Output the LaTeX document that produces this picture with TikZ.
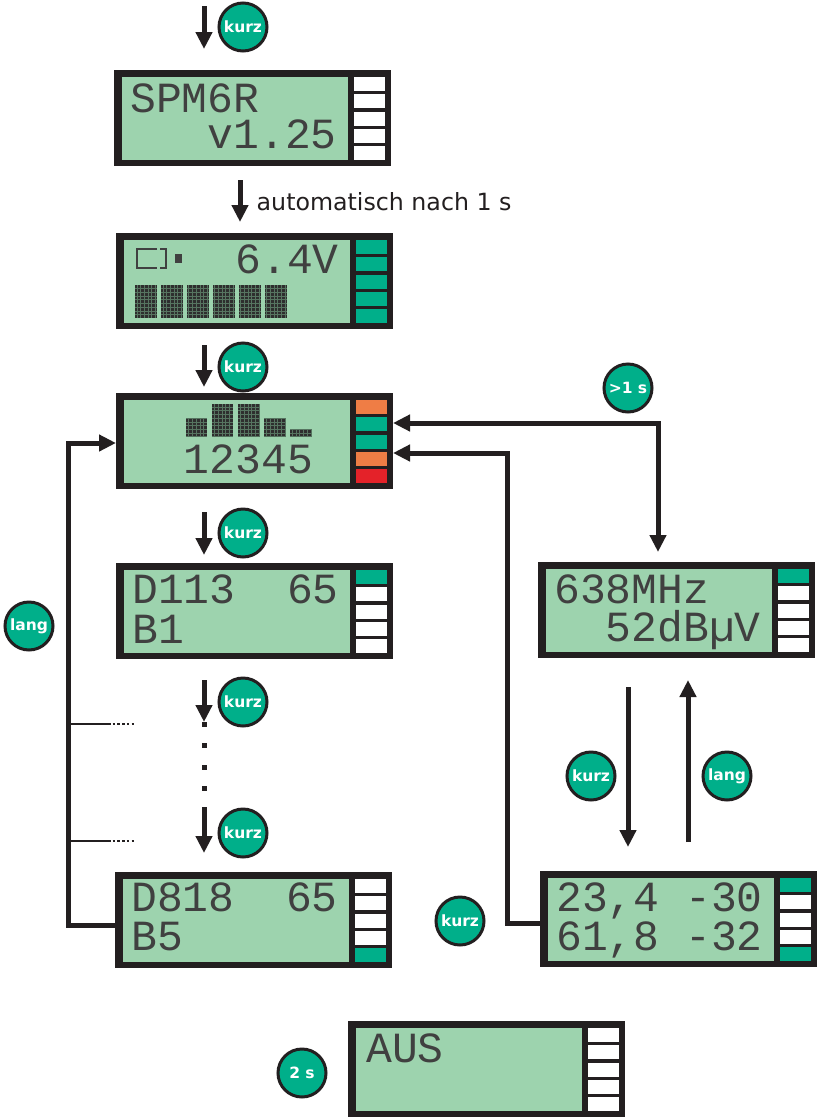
\documentclass[tikz,border=0pt]{standalone}
\usepackage{fontspec}
\setmainfont{DejaVu Sans}
\newfontfamily\lcdfont{Liberation Mono}
\usetikzlibrary{arrows.meta,calc}
\definecolor{lcdg}{HTML}{9DD3AE}
\definecolor{tealg}{HTML}{00AF8A}
\definecolor{ledo}{HTML}{EF7D45}
\definecolor{ledr}{HTML}{E42229}
\definecolor{frame}{HTML}{231F20}
\newcommand{\lcdpanel}[8]{%
  \node[lcdframe, anchor=north west] (#1) at (#2,#3) {};
  \fill[lcdg] (#2+8,#3+7) rectangle (#2+234,#3+90);
  \fill[#4] (#2+240,#3+7) rectangle (#2+271,#3+21);
  \fill[#5] (#2+240,#3+24.25) rectangle (#2+271,#3+38.25);
  \fill[#6] (#2+240,#3+41.5) rectangle (#2+271,#3+55.5);
  \fill[#7] (#2+240,#3+58.75) rectangle (#2+271,#3+72.75);
  \fill[#8] (#2+240,#3+76) rectangle (#2+271,#3+90);
}
\newcommand{\dotblock}[4]{%
  \fill[black!82] (#1,#2) rectangle (#3,#4);
  \draw[lcdg!55!black, line width=0.45pt, step=3.7pt] (#1,#2) grid (#3,#4);
}
\tikzset{
  lcdframe/.style={fill=frame, draw=none, minimum width=277pt, minimum height=96pt, inner sep=0pt, outer sep=0pt},
  lcdtxt/.style={font=\lcdfont\fontsize{43}{44}\selectfont, text=black!75, inner sep=0pt, anchor=base west, text height=29pt, text depth=2pt},
  badge/.style={circle, fill=tealg, draw=frame, line width=3pt, minimum size=48pt, inner sep=0pt, text=white, font=\bfseries\fontsize{15.5}{16}\selectfont},
  arr/.style={draw=frame, line width=5pt, -{Triangle[width=16pt,length=17pt]}},
  conn/.style={draw=frame, line width=5pt},
  stub/.style={draw=frame, line width=2.5pt},
  stubdots/.style={draw=frame, line width=2.5pt, dash pattern=on 2.5pt off 2.2pt},
}
\begin{document}
\begin{tikzpicture}[x=1pt,y=-1pt]
\useasboundingbox (0,0) rectangle (818,1117);
\fill[white] (0,0) rectangle (818,1117);

% displays
\lcdpanel{d1}{114}{70}{white}{white}{white}{white}{white}
\lcdpanel{d2}{116}{233}{tealg}{tealg}{tealg}{tealg}{tealg}
\lcdpanel{d3}{116}{393}{ledo}{tealg}{tealg}{ledo}{ledr}
\lcdpanel{d4}{116}{563}{tealg}{white}{white}{white}{white}
\lcdpanel{d5}{115}{872}{white}{white}{white}{white}{tealg}
\lcdpanel{d6}{538}{562}{tealg}{white}{white}{white}{white}
\lcdpanel{d7}{540}{871}{tealg}{white}{white}{white}{tealg}
\lcdpanel{d8}{348}{1021}{white}{white}{white}{white}{white}

% display texts
\node[lcdtxt] (t1a) at (130,112) {SPM6R};
\node[lcdtxt] (t1b) at (130,148) {~~~v1.25};
\node[lcdtxt] (t2a) at (132,273) {~~~~6.4V};
\node[lcdtxt] (t3a) at (132,473) {~~12345};
\node[lcdtxt] (t4a) at (132,603) {D113~~65};
\node[lcdtxt] (t4b) at (132,643) {B1};
\node[lcdtxt] (t5a) at (131,911) {D818~~65};
\node[lcdtxt] (t5b) at (131,950) {B5};
\node[lcdtxt] (t6a) at (554,603) {638MHz};
\node[lcdtxt] (t6b) at (554,641) {~~52dBµV};
\node[lcdtxt] (t7a) at (556,911) {23,4~-30};
\node[lcdtxt] (t7b) at (556,950) {61,8~-32};
\node[lcdtxt] (t8a) at (366,1062) {AUS};

% battery icon
\draw[black!75, line width=2.8pt] (157,249) -- (137,249) -- (137,268) -- (157,268);
\draw[black!75, line width=2.8pt] (160,249) -- (166,249) -- (166,268) -- (160,268);
\fill[black!75] (175,254) rectangle (182,263);
% battery bars
\foreach \i in {0,...,5}{\dotblock{135+26*\i}{285}{157+26*\i}{318}}
% level histogram
\dotblock{186}{418}{207}{437}
\dotblock{212}{404}{233}{437}
\dotblock{238}{404}{259}{437}
\dotblock{264}{418}{286}{437}
\dotblock{290}{429}{312}{437}

% badges
\node[badge] (k1) at (243,27) {kurz};
\node[badge] (k2) at (243,367) {kurz};
\node[badge] (k3) at (243,533) {kurz};
\node[badge] (k4) at (243,702) {kurz};
\node[badge] (k5) at (243,833) {kurz};
\node[badge] (l1) at (29,626) {lang};
\node[badge] (g1) at (628,388) {>1 s};
\node[badge] (k6) at (591,776) {kurz};
\node[badge] (l2) at (727,776) {lang};
\node[badge] (k7) at (460,921) {kurz};
\node[badge] (s2) at (302,1073) {2 s};

\node[font=\fontsize{23.7}{28}\selectfont, text=frame, inner sep=0pt, anchor=base west] (auto) at (256.5,210) {automatisch nach 1 s};

% column helpers
\coordinate (colA) at (240,0);
\coordinate (colB) at (204,0);
\coordinate (colC) at (628,0);
\coordinate (colD) at (688,0);
\coordinate (colE) at (658,0);
\coordinate (colF) at (507,453);
\coordinate (colG) at (68,443);
\coordinate (top) at (204,6);
\coordinate (dotsA) at (204,722);
\coordinate (dotsB) at (204,807);

% vertical arrows
\draw[arr, shorten >=21pt] (top) -- (d1.north -| colB);
\draw[arr, shorten <=14pt, shorten >=11pt] (d1.south -| colA) -- (d2.north -| colA);
\draw[arr, shorten <=16pt, shorten >=6pt] (d2.south -| colB) -- (d3.north -| colB);
\draw[arr, shorten <=23pt, shorten >=8pt] (d3.south -| colB) -- (d4.north -| colB);
\draw[arr, shorten <=21pt] (d4.south -| colB) -- (dotsA);
\foreach \yy in {724,745,767,788} \fill[frame] (201.5,\yy-2.5) rectangle (206.5,\yy+2.5);
\draw[arr, shorten >=19pt] (dotsB) -- (d5.north -| colB);
\draw[arr, shorten <=29pt, shorten >=24pt] (d6.south -| colC) -- (d7.north -| colC);
\draw[arr, shorten <=29pt, shorten >=22pt] (d7.north -| colD) -- (d6.south -| colD);

% connectors
\draw[conn, {Triangle[width=16pt,length=17pt]}-{Triangle[width=16pt,length=17pt]}, shorten >=10pt]
  ([yshift=18pt]d3.east) -| (d6.north -| colE);
\draw[conn, -{Triangle[width=16pt,length=17pt]}]
  ([yshift=-4pt]d7.west) -| (colF) -- ([yshift=-12pt]d3.east);
\draw[conn, -{Triangle[width=16pt,length=17pt]}]
  ([yshift=-5pt]d5.west) -| (colG) -- ([yshift=-2pt]d3.west);

% stubs on the loop
\coordinate (b1) at (68,724);
\coordinate (b1e) at (108,724);
\coordinate (b1d) at (136,724);
\coordinate (b2) at (68,841);
\coordinate (b2e) at (108,841);
\coordinate (b2d) at (136,841);
\draw[stub] (b1) -- (b1e);
\draw[stubdots] (b1e) -- (b1d);
\draw[stub] (b2) -- (b2e);
\draw[stubdots] (b2e) -- (b2d);
\end{tikzpicture}
\end{document}
